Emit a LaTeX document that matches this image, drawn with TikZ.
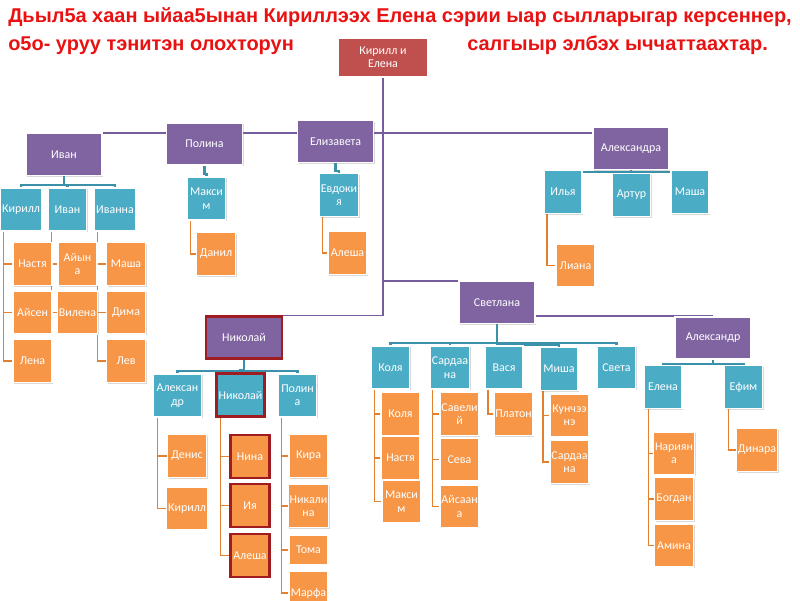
\documentclass[tikz,border=0pt]{standalone}
\usepackage{fontspec}
\setmainfont{Carlito}
\newfontfamily\titlefont{Liberation Sans}
\usepackage{tikz}
\usetikzlibrary{shadows,backgrounds,calc}
\definecolor{famRed}{RGB}{192,80,77}
\definecolor{famPurple}{RGB}{128,100,162}
\definecolor{famTeal}{RGB}{75,172,198}
\definecolor{famOrange}{RGB}{247,150,70}
\definecolor{famBorder}{RGB}{160,28,32}
\definecolor{titleRed}{RGB}{232,18,18}
\definecolor{linePurple}{RGB}{118,94,158}
\definecolor{lineTeal}{RGB}{60,145,170}
\definecolor{lineOrange}{RGB}{226,128,48}

\begin{document}
\begin{tikzpicture}[x=0.025cm,y=-0.025cm,
  box/.style={draw=white,line width=1pt,align=center,inner sep=1pt,text=white,font=\fontsize{8.5}{9.5}\selectfont,drop shadow={opacity=0.3,shadow xshift=0.8pt,shadow yshift=-0.8pt}},
  root/.style={box,fill=famRed,minimum width=2.25cm,minimum height=0.975cm},
  par/.style={box,fill=famPurple,minimum width=1.9cm,minimum height=1.05cm},
  kid/.style={box,fill=famTeal,minimum width=0.95cm,minimum height=1.075cm},
  gkid/.style={box,fill=famOrange,minimum width=0.975cm,minimum height=1.075cm},
  hl/.style={draw=famBorder,line width=1.6pt},
  lnka/.style={draw=linePurple,line width=1.2pt},
  lnkb/.style={draw=lineTeal,line width=1.5pt},
  lnkc/.style={draw=lineOrange,line width=1pt},
  head/.style={anchor=base west,inner sep=0pt,text=titleRed,font=\titlefont\bfseries\fontsize{14.2}{16}\selectfont}
]
  \useasboundingbox (0,0) rectangle (800,600);

  % title
  \node[head] (t1) at (8,22) {Дьыл5а хаан ыйаа5ынан Кириллээх Елена сэрии ыар сылларыгар керсеннер,};
  \node[head] (t2) at (8,50) {о5о- уруу тэнитэн олохторун};
  \node[head] (t3) at (467,50) {салгыыр элбэх ыччаттаахтар.};

  % root and children
  \node[root] (kirel) at (383,57.5) {Кирилл и\\Елена};
  \node[par] (ivan) at (64,154.5) {Иван};
  \node[par] (polina) at (204.5,144) {Полина};
  \node[par] (elizaveta) at (335.5,141.5) {Елизавета};
  \node[par] (aleksandra) at (631,148.5) {Александра};
  \node[par] (svetlana) at (497,302.5) {Светлана};
  \node[par] (aleksandr) at (713,338) {Александр};
  \node[par,hl] (nikolaj) at (244,337.5) {Николай};

  % Иван
  \node[kid] (ivKirill) at (21,209.5) {Кирилл};
  \node[kid] (ivIvan) at (67.5,209.5) {Иван};
  \node[kid] (ivIvanna) at (115,209.5) {Иванна};
  \node[gkid] (kiNastya) at (32.5,264) {Настя};
  \node[gkid] (kiAjsen) at (32.5,312.5) {Айсен};
  \node[gkid] (kiLena) at (32.5,361) {Лена};
  \node[gkid] (iiAjyna) at (77.5,264) {Айын\\а};
  \node[gkid] (iiVilena) at (77.5,312.5) {Вилена};
  \node[gkid] (inMasha) at (126,264) {Маша};
  \node[gkid] (inDima) at (126,312.5) {Дима};
  \node[gkid] (inLev) at (126,361) {Лев};

  % Полина, Елизавета
  \node[kid] (poMaksim) at (206.5,198.5) {Макси\\м};
  \node[gkid] (maDanil) at (216,254) {Данил};
  \node[kid] (elEvdokiya) at (339,195) {Евдоки\\я};
  \node[gkid] (evAlesha) at (347.5,253) {Алеша};

  % Александра
  \node[kid] (alIlya) at (563,192) {Илья};
  \node[kid] (alArtur) at (631.5,195) {Артур};
  \node[kid] (alMasha) at (690,192) {Маша};
  \node[gkid] (ilLiana) at (575.5,265.5) {Лиана};

  % Николай
  \node[kid,minimum width=1.2cm] (niAleksandr) at (177.5,395.5) {Алексан\\др};
  \node[kid,hl,minimum width=1.2cm] (niNikolaj) at (240.5,395) {Николай};
  \node[kid] (niPolina) at (297.5,395.5) {Полин\\а};
  \node[gkid] (naDenis) at (187,456) {Денис};
  \node[gkid] (naKirill) at (187,508.5) {Кирилл};
  \node[gkid,hl] (nnNina) at (250,456.5) {Нина};
  \node[gkid,hl] (nnIya) at (250,505.5) {Ия};
  \node[gkid,hl] (nnAlesha) at (250,555.5) {Алеша};
  \node[gkid] (npKira) at (308.5,456) {Кира};
  \node[gkid] (npNikalina) at (308.5,506) {Никали\\на};
  \node[gkid,minimum height=0.75cm] (npToma) at (308.5,550) {Тома};
  \node[gkid] (npMarfa) at (308.5,593) {Марфа};

  % Светлана
  \node[kid] (svKolya) at (390.5,367.5) {Коля};
  \node[kid] (svSardaana) at (450,367.5) {Сардаа\\на};
  \node[kid] (svVasya) at (504,367.5) {Вася};
  \node[kid] (svMisha) at (559,369) {Миша};
  \node[kid] (svSveta) at (616.5,367.5) {Света};
  \node[gkid] (skKolya) at (400.5,414) {Коля};
  \node[gkid] (skNastya) at (400.5,458) {Настя};
  \node[gkid] (skMaksim) at (401.5,501.5) {Макси\\м};
  \node[gkid] (ssSavelij) at (459.5,414) {Савели\\й};
  \node[gkid] (ssSeva) at (459.5,459.5) {Сева};
  \node[gkid] (ssAjsaana) at (459.5,506.5) {Айсаан\\а};
  \node[gkid] (vaPlaton) at (513.5,414) {Платон};
  \node[gkid] (miKunchee) at (569.5,415.5) {Кунчээ\\нэ};
  \node[gkid] (miSardaana) at (569.5,462) {Сардаа\\на};

  % Александр
  \node[kid] (arElena) at (663,387) {Елена};
  \node[kid] (arEfim) at (743.5,387) {Ефим};
  \node[gkid] (elNariyana) at (674,453.5) {Нариян\\а};
  \node[gkid] (elBogdan) at (674,499) {Богдан};
  \node[gkid] (elAmina) at (674,545.5) {Амина};
  \node[gkid] (efDinara) at (757,450) {Динара};

  \begin{scope}[on background layer]
    % purple lines
    \draw[lnka] (ivan.north east) -- (ivan.north east -| aleksandra.west);
    \draw[lnka] (kirel.south) |- (nikolaj.north);
    \draw[lnka] (kirel.south |- svetlana.north) -- (svetlana.north west);
    \draw[lnka] (svetlana.east |- aleksandr.north) -- (aleksandr.north);
    % teal lines
    \foreach \c in {ivKirill,ivIvan,ivIvanna} \draw[lnkb] (ivan.south) |- ([yshift=1.5pt]\c.north) -- (\c.north);
    \draw[lnkb] (polina.south) |- ([yshift=1.5pt]poMaksim.north) -- (poMaksim.north);
    \draw[lnkb] (elizaveta.south) |- ([yshift=1.5pt]elEvdokiya.north) -- (elEvdokiya.north);
    \foreach \c in {alIlya,alArtur,alMasha} \draw[lnkb] (aleksandra.south) -- ++(0,-1pt) -| (\c.north);
    \foreach \c in {niAleksandr,niNikolaj,niPolina} \draw[lnkb] (nikolaj.south) |- ([yshift=1.5pt]\c.north) -- (\c.north);
    \foreach \c in {svKolya,svSardaana,svVasya,svMisha,svSveta} \draw[lnkb] (svetlana.south) |- ([yshift=1.5pt]\c.north) -- (\c.north);
    \foreach \c in {arElena,arEfim} \draw[lnkb] (aleksandr.south) -- ++(0,-3pt) -| (\c.north);
    % orange lines
    \foreach \c in {kiNastya,kiAjsen,kiLena} \draw[lnkc] ([xshift=2.5pt]ivKirill.south west) |- (\c.west);
    \foreach \c in {iiAjyna,iiVilena} \draw[lnkc] ([xshift=2.5pt]ivIvan.south west) |- (\c.west);
    \foreach \c in {inMasha,inDima,inLev} \draw[lnkc] ([xshift=2.5pt]ivIvanna.south west) |- (\c.west);
    \draw[lnkc] ([xshift=2.5pt]poMaksim.south west) |- (maDanil.west);
    \draw[lnkc] ([xshift=2.5pt]elEvdokiya.south west) |- (evAlesha.west);
    \draw[lnkc] ([xshift=2.5pt]alIlya.south west) |- (ilLiana.west);
    \foreach \c in {naDenis,naKirill} \draw[lnkc] ([xshift=3.5pt]niAleksandr.south west) |- (\c.west);
    \foreach \c in {nnNina,nnIya,nnAlesha} \draw[lnkc] ([xshift=3.5pt]niNikolaj.south west) |- (\c.west);
    \foreach \c in {npKira,npNikalina,npToma,npMarfa} \draw[lnkc] ([xshift=2.5pt]niPolina.south west) |- (\c.west);
    \foreach \c in {skKolya,skNastya,skMaksim} \draw[lnkc] ([xshift=2.5pt]svKolya.south west) |- (\c.west);
    \foreach \c in {ssSavelij,ssSeva,ssAjsaana} \draw[lnkc] ([xshift=2pt]svSardaana.south west) |- (\c.west);
    \draw[lnkc] ([xshift=2.5pt]svVasya.south west) |- (vaPlaton.west);
    \foreach \c in {miKunchee,miSardaana} \draw[lnkc] ([xshift=2.5pt]svMisha.south west) |- (\c.west);
    \foreach \c in {elNariyana,elBogdan,elAmina} \draw[lnkc] ([xshift=3.5pt]arElena.south west) |- (\c.west);
    \draw[lnkc] ([xshift=3.5pt]arEfim.south west) |- (efDinara.west);
  \end{scope}
\end{tikzpicture}
\end{document}
